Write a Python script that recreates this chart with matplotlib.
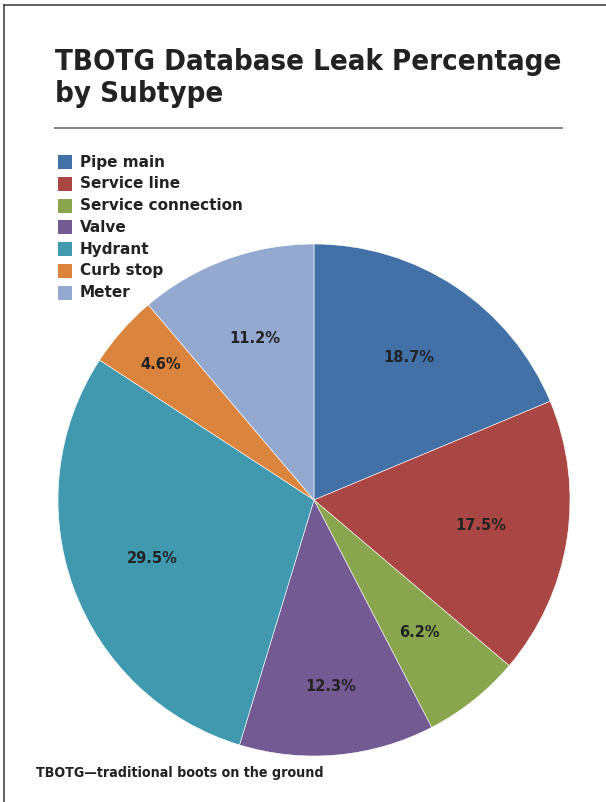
import matplotlib
matplotlib.use("Agg")
import numpy as np
import matplotlib.pyplot as plt
from matplotlib.lines import Line2D
from matplotlib.patches import Rectangle

categories = ["Pipe main", "Service line", "Service connection", "Valve", "Hydrant", "Curb stop", "Meter"]
values = [18.7, 17.5, 6.2, 12.3, 29.5, 4.6, 11.2]
colors = ["#4271A8", "#AA4744", "#89A54E", "#735A93", "#4199AF", "#DB843D", "#93A9CF"]
label_dist = [0.67, 0.66, 0.66, 0.73, 0.67, 0.80, 0.67]

W, H = 606, 802
fig = plt.figure(figsize=(W / 100, H / 100), dpi=100)
fig.patch.set_facecolor("white")

# frame lines (top and left)
fig.add_artist(Line2D([4 / W, 1], [1 - 5 / H, 1 - 5 / H], color="#444444", lw=1.2, transform=fig.transFigure))
fig.add_artist(Line2D([4 / W, 4 / W], [0, 1 - 5 / H], color="#444444", lw=1.2, transform=fig.transFigure))

# title
title = fig.text(55 / W, 1 - 48 / H, "TBOTG Database Leak Percentage\nby Subtype",
                 fontsize=22, fontweight="bold", fontstretch="condensed",
                 color="#222222", va="top", ha="left", linespacing=1.2)
fig.add_artist(Line2D([55 / W, 562 / W], [1 - 128 / H, 1 - 128 / H], color="#777777", lw=1.3,
                      transform=fig.transFigure))

# pie
r = 256
ax = fig.add_axes([(314 - r) / W, (H - 500 - r) / H, 2 * r / W, 2 * r / H])
wedges, texts, autotexts = ax.pie(values, colors=colors, startangle=90, counterclock=False,
                                  autopct="%.1f%%", pctdistance=0.67, radius=1,
                                  wedgeprops=dict(linewidth=0.4, edgecolor="white"),
                                  textprops=dict(fontsize=10.5, fontweight="bold", color="#222222"))
for w, t, d in zip(wedges, autotexts, label_dist):
    ang = np.deg2rad((w.theta1 + w.theta2) / 2)
    t.set_position((d * np.cos(ang), d * np.sin(ang)))
ax.set_xlim(-1, 1)
ax.set_ylim(-1, 1)
ax.set_aspect("equal")
ax.axis("off")

# legend
y0 = 162
for i, lab in enumerate(categories):
    yc = y0 + i * 21.8
    fig.add_artist(Rectangle((58 / W, 1 - (yc + 7) / H), 14 / W, 14 / H, facecolor=colors[i],
                             edgecolor="none", transform=fig.transFigure))
    fig.text(80 / W, 1 - yc / H, lab, fontsize=11, fontweight="bold", color="#222222",
             va="center", ha="left")

# footnote
foot = fig.text(36 / W, 1 - 773 / H, "TBOTG\u2014traditional boots on the ground", fontsize=11,
                fontweight="bold", fontstretch="condensed", color="#222222",
                va="center", ha="left")

# fit condensed texts to the reference widths
fig.canvas.draw()
renderer = fig.canvas.get_renderer()
for txt, target in [(title, 505), (foot, 286)]:
    wpx = txt.get_window_extent(renderer).width
    txt.set_fontsize(txt.get_fontsize() * target / wpx)

fig.savefig("out.png", dpi=100)
